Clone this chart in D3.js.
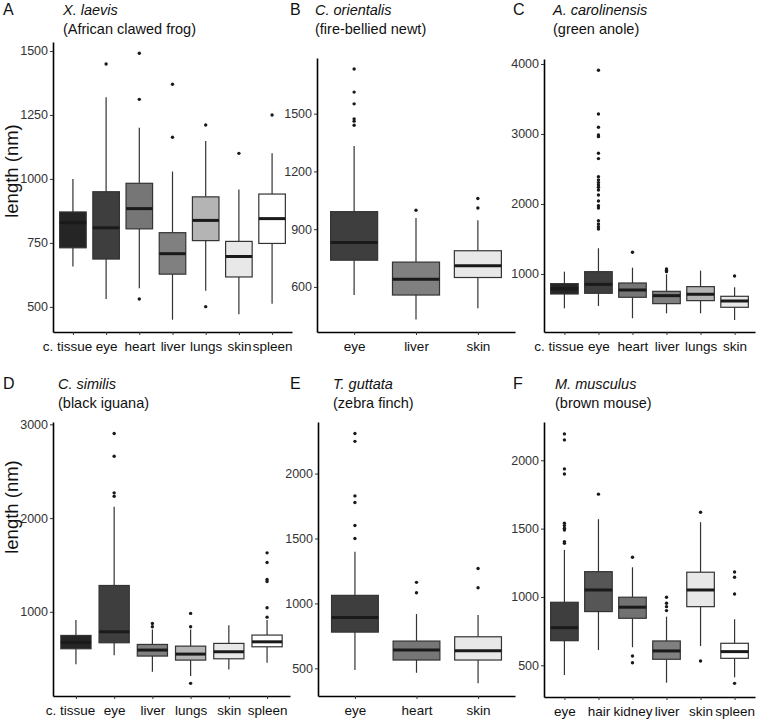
<!DOCTYPE html>
<html><head><meta charset="utf-8">
<script src="https://cdn.jsdelivr.net/npm/d3@7"></script>
<style>body{margin:0;background:#fff}svg{display:block}</style>
</head><body>
<svg id="chart" width="757" height="720"></svg>
<script>
// ---------- DATA (box stats: [lower whisker, Q1, median, Q3, upper whisker]) ----------
const catsA = ["c. tissue","eye","heart","liver","lungs","skin","spleen"];
const boxA = [[658,731,829,871,1000],[531,687,809,950,1319],[573,805,884,983,1200],[450,628,708,790,1029],[563,759,838,930,1148],[471,617,697,756,959],[512,748,845,941,1100]];
const outA = [[],[1449],[1491,1311,531],[1370,1163],[1211,501],[1100],[1250]];
const ticksA = [500,750,1000,1250,1500];

const catsB = ["eye","liver","skin"];
const boxB = [[558,739,831,991,1332],[431,558,640,729,958],[489,649,710,788,946]];
const outB = [[1732,1612,1551,1473,1461,1440],[998],[1059,1010]];
const ticksB = [600,900,1200,1500];

const catsC = ["c. tissue","eye","heart","liver","lungs","skin"];
const boxC = [[510,714,790,862,1033],[543,724,852,1033,1367],[367,667,771,871,1090],[438,576,690,752,995],[438,619,710,819,1048],[343,524,614,681,810]];
const outC = [[],[3910,3286,3095,2986,2962,2724,2648,2390,2343,2305,2271,2238,2200,2129,2043,1976,1943,1762,1714,1676,1643],[1310],[1071,1048,1033],[],[971]];
const ticksC = [1000,2000,3000,4000];

const catsD = ["c. tissue","eye","liver","lungs","skin","spleen"];
const boxD = [[442,606,674,748,912],[538,670,787,1281,2120],[360,528,592,652,812],[315,485,549,634,812],[386,499,574,663,858],[456,627,680,752,912]];
const outD = [[],[2902,2660,2269,2233],[876,840],[983,840,237],[],[1629,1526,1345,1324,1043,943]];
const ticksD = [1000,2000,3000];

const catsE = ["eye","heart","skin"];
const boxE = [[487,779,892,1062,1397],[466,564,641,710,918],[385,564,636,743,910]];
const outE = [[2308,2248,1828,1777,1600,1500],[1162,1082],[1269,1121]];
const ticksE = [500,1000,1500,2000];

const catsF = ["eye","hair","kidney","liver","skin","spleen"];
const boxF = [[429,680,775,961,1344],[612,893,1051,1185,1569],[632,844,925,998,1217],[373,544,605,678,856],[641,929,1051,1181,1547],[412,551,600,661,837]];
const outF = [[2193,2149,1937,1900,1540,1522,1503,1490,1405,1393],[1752],[1291,568,519],[998,954,929,900],[1620,531],[1183,1144,1022,368]];
const ticksF = [500,1000,1500,2000];

const letters = ["A","B","C","D","E","F"];
const species = ["X. laevis","C. orientalis","A. carolinensis","C. similis","T. guttata","M. musculus"];
const commonNames = ["(African clawed frog)","(fire-bellied newt)","(green anole)","(black iguana)","(zebra finch)","(brown mouse)"];
const yTitle = "length (nm)";

// ---------- STYLE ----------
const tissueFill = {"c. tissue":"#252525","eye":"#3e3e3e","hair":"#565656","heart":"#767676","kidney":"#727272","liver":"#808080","lungs":"#b4b4b4","skin":"#e8e8e8","spleen":"#ffffff"};

const layout = [
  {left:53,  right:292, top:42,  bottom:332, dom:[402,1535], bw:0.80, lx:3,   tx:63,  ty:15,  yt:171},
  {left:317, right:515, top:58,  bottom:332, dom:[366,1789], bw:0.76, lx:290, tx:315, ty:15},
  {left:544, right:755, top:59,  bottom:332, dom:[171,4071], bw:0.81, lx:513, tx:553, ty:15},
  {left:53,  right:290, top:422, bottom:696, dom:[102,3025], bw:0.79, lx:3,   tx:58,  ty:389, yt:507},
  {left:318, right:515, top:422, bottom:696, dom:[287,2397], bw:0.76, lx:290, tx:333, ty:389},
  {left:544, right:755, top:422, bottom:697, dom:[268,2280], bw:0.81, lx:513, tx:555, ty:389}
];
const panelData = [
  [catsA,boxA,outA,ticksA],[catsB,boxB,outB,ticksB],[catsC,boxC,outC,ticksC],
  [catsD,boxD,outD,ticksD],[catsE,boxE,outE,ticksE],[catsF,boxF,outF,ticksF]
];

const svg = d3.select("#chart");
const FONT = "'Liberation Sans', Arial, sans-serif";
const NARROW = "'Liberation Sans Narrow', 'Arial Narrow', 'Liberation Sans', sans-serif";

panelData.forEach((pd, i) => {
  const [cats, box, outs, ticks] = pd;
  const L = layout[i];
  const x = d3.scalePoint().domain(cats).range([L.left, L.right]).padding(0.6);
  const y = d3.scaleLinear().domain(L.dom).range([L.bottom, L.top]);
  const g = svg.append("g");
  const bw = x.step() * L.bw;

  // letter + title
  g.append("text").attr("x", L.lx).attr("y", L.ty).text(letters[i])
    .attr("font-family", FONT).attr("font-size", 16).attr("fill", "#111");
  g.append("text").attr("x", L.tx).attr("y", L.ty).text(species[i])
    .attr("font-family", FONT).attr("font-size", 14.5).attr("font-style", "italic").attr("fill", "#111");
  g.append("text").attr("x", L.tx).attr("y", L.ty + 19).text(commonNames[i])
    .attr("font-family", FONT).attr("font-size", 14.5).attr("fill", "#111");

  // boxes
  const bx = g.selectAll("g.box").data(cats).join("g").attr("class", "box");
  bx.append("line")
    .attr("x1", d => x(d)).attr("x2", d => x(d))
    .attr("y1", (d, k) => y(box[k][0])).attr("y2", (d, k) => y(box[k][1]))
    .attr("stroke", "#333").attr("stroke-width", 1.2);
  bx.append("line")
    .attr("x1", d => x(d)).attr("x2", d => x(d))
    .attr("y1", (d, k) => y(box[k][3])).attr("y2", (d, k) => y(box[k][4]))
    .attr("stroke", "#333").attr("stroke-width", 1.2);
  bx.append("rect")
    .attr("x", d => x(d) - bw / 2).attr("width", bw)
    .attr("y", (d, k) => y(box[k][3]))
    .attr("height", (d, k) => y(box[k][1]) - y(box[k][3]))
    .attr("fill", d => tissueFill[d]).attr("stroke", "#333").attr("stroke-width", 1.2);
  bx.append("line")
    .attr("x1", d => x(d) - bw / 2).attr("x2", d => x(d) + bw / 2)
    .attr("y1", (d, k) => y(box[k][2])).attr("y2", (d, k) => y(box[k][2]))
    .attr("stroke", "#1a1a1a").attr("stroke-width", 3);
  // outliers
  cats.forEach((c, k) => {
    g.selectAll(null).data(outs[k]).join("circle")
      .attr("cx", x(c)).attr("cy", v => y(v)).attr("r", 1.7).attr("fill", "#1a1a1a");
  });

  // axes
  const ya = g.append("g").attr("transform", `translate(${L.left},0)`)
    .call(d3.axisLeft(y).tickValues(ticks).tickSize(3).tickSizeOuter(0).tickPadding(2).tickFormat(d3.format("d")));
  ya.select(".domain").attr("stroke", "#000").attr("stroke-width", 1.6);
  ya.selectAll(".tick line").attr("stroke", "#333");
  ya.selectAll(".tick text").attr("font-family", NARROW).attr("font-size", 12.5).attr("fill", "#333");

  const xa = g.append("g").attr("transform", `translate(0,${L.bottom})`)
    .call(d3.axisBottom(x).tickSize(3).tickSizeOuter(0).tickPadding(6));
  xa.select(".domain").attr("stroke", "#000").attr("stroke-width", 1.6);
  xa.selectAll(".tick line").attr("stroke", "#333");
  xa.selectAll(".tick text").attr("font-family", FONT).attr("font-size", 13.5).attr("fill", "#111")
    .attr("dx", d => d === "c. tissue" ? -6 : 0);

  if (L.yt) {
    g.append("text")
      .attr("transform", `translate(18,${L.yt}) rotate(-90)`)
      .attr("text-anchor", "middle").text(yTitle)
      .attr("font-family", FONT).attr("font-size", 18.5).attr("fill", "#111");
  }
});
</script>
</body></html>
